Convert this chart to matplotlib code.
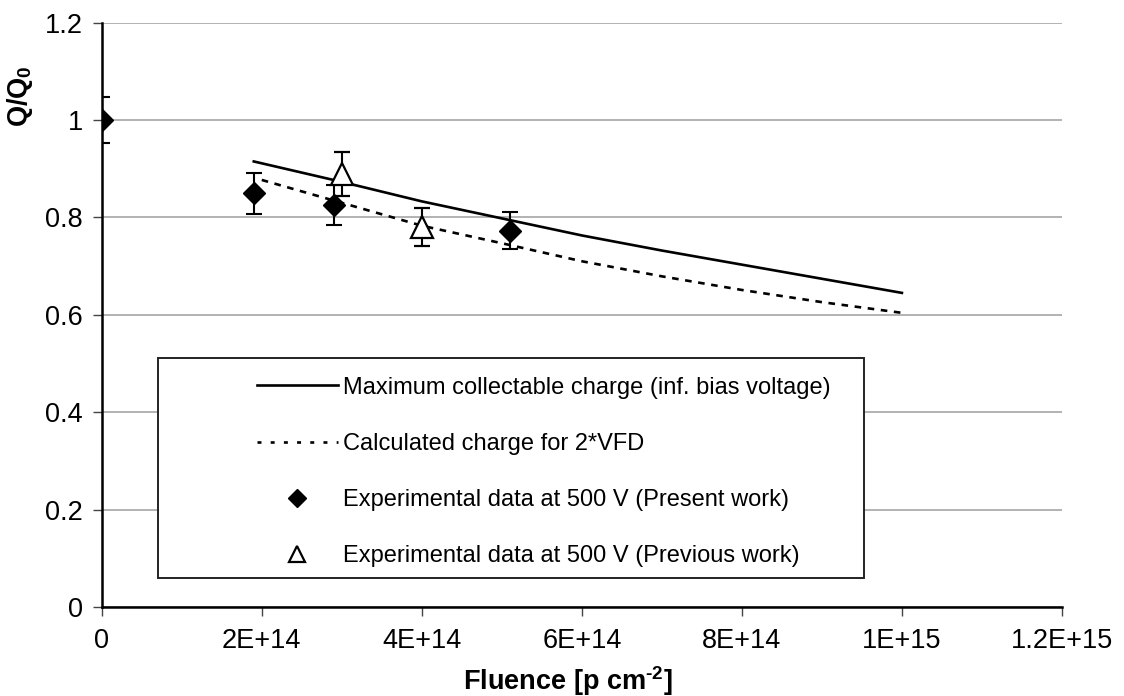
import matplotlib
matplotlib.use('Agg')
import matplotlib.pyplot as plt
from matplotlib.lines import Line2D
from matplotlib.patches import Rectangle

plt.rcParams['font.family'] = ['Liberation Sans', 'DejaVu Sans']
plt.rcParams['mathtext.fontset'] = 'custom'
plt.rcParams['mathtext.rm'] = 'Liberation Sans:bold'
plt.rcParams['mathtext.bf'] = 'Liberation Sans:bold'

# curves
max_x = [1.9e14, 3e14, 4e14, 5e14, 6e14, 7e14, 8e14, 9e14, 1e15]
max_q = [0.915, 0.873, 0.833, 0.798, 0.763, 0.732, 0.703, 0.674, 0.645]
calc_x = [2e14, 3e14, 4e14, 5e14, 6e14, 7e14, 8e14, 9e14, 1e15]
calc_q = [0.877, 0.830, 0.783, 0.747, 0.710, 0.679, 0.651, 0.626, 0.604]

# measurements
present_x = [0, 1.9e14, 2.9e14, 5.1e14]
present_q = [1.0, 0.85, 0.825, 0.773]
present_err = [0.047, 0.042, 0.041, 0.038]
previous_x = [3.0e14, 4.0e14]
previous_q = [0.89, 0.78]
previous_err = [0.045, 0.039]

labels = ['Maximum collectable charge (inf. bias voltage)',
          'Calculated charge for 2*VFD',
          'Experimental data at 500 V (Present work)',
          'Experimental data at 500 V (Previous work)']

fig = plt.figure(figsize=(11.24, 6.96), dpi=100)
ax = fig.add_axes([0.0905, 0.128, 0.8543, 0.8394])

ax.plot(max_x, max_q, color='black', lw=1.9)
ax.plot(calc_x, calc_q, color='black', lw=1.9, ls=(0, (2.5, 2.5)))

ax.errorbar(present_x, present_q, yerr=present_err, fmt='D', color='black',
            ms=11.5, elinewidth=1.5, capsize=5.5, capthick=1.5, zorder=5)
ax.errorbar(previous_x, previous_q, yerr=previous_err, fmt='^', color='black',
            mfc='white', mec='black', mew=1.6, ms=16, elinewidth=1.5,
            capsize=5.5, capthick=1.5, zorder=5)

ax.set_xlim(0, 1.2e15)
ax.set_ylim(0, 1.2)
xt = [0, 2e14, 4e14, 6e14, 8e14, 1e15, 1.2e15]
ax.set_xticks(xt)
ax.set_xticklabels(['0', '2E+14', '4E+14', '6E+14', '8E+14', '1E+15', '1.2E+15'])
ax.set_yticks([0, 0.2, 0.4, 0.6, 0.8, 1.0, 1.2])
ax.set_yticklabels(['0', '0.2', '0.4', '0.6', '0.8', '1', '1.2'])
ax.tick_params(axis='both', labelsize=19.5, length=6.5, width=1, direction='out',
               color='#444444', pad=7)
ax.tick_params(axis='x', pad=9)
ax.yaxis.grid(True, color='#a6a6a6', lw=1.2)
ax.set_axisbelow(True)
for s in ['top', 'right']:
    ax.spines[s].set_visible(False)
for s in ['left', 'bottom']:
    ax.spines[s].set_linewidth(1.8)
    ax.spines[s].set_color('black')
ax.spines['left'].set_zorder(6)

fig.text(0.505, 0.022, r'Fluence [p cm$^{\text{-2}}$]', ha='center', va='center',
         fontsize=19.5, fontweight='bold')
fig.text(0.018, 0.862, r'Q/Q$_{\mathrm{0}}$', ha='center', va='center', rotation=90,
         fontsize=19.5, fontweight='bold')

# legend box
ax.add_patch(Rectangle((0.0589, 0.0496), 0.7345, 0.376, transform=ax.transAxes,
                       facecolor='white', edgecolor='#222222', lw=1.4, zorder=7))
handles = [Line2D([], [], color='black', lw=1.9),
           Line2D([], [], color='black', lw=1.9, ls=(0, (1.5, 3.5))),
           Line2D([], [], color='black', marker='D', ls='none', ms=9),
           Line2D([], [], color='black', marker='^', ls='none', ms=12,
                  mfc='white', mew=1.6)]
leg = ax.legend(handles, labels, loc='upper left', bbox_to_anchor=(0.162, 0.394),
                frameon=False, fontsize=17, handlelength=3.4, handletextpad=0.25,
                labelspacing=1.45, borderpad=0, borderaxespad=0)
leg.set_zorder(8)

fig.savefig('out.png', dpi=100)
